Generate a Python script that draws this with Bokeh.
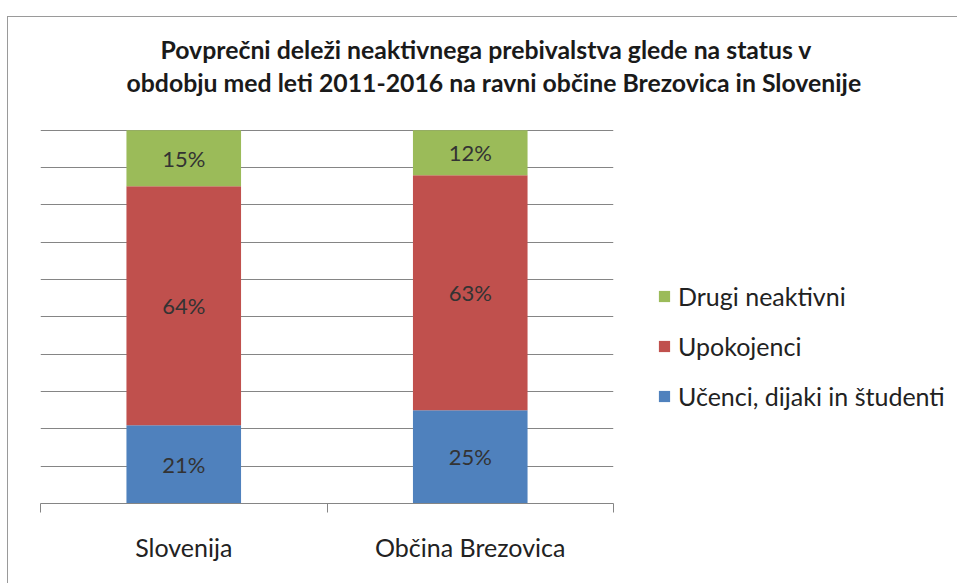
from bokeh.plotting import figure
from bokeh.models import (Range1d, FixedTicker, Legend, LegendItem, Title,
                          ColumnDataSource)
from bokeh.core.properties import value
from bokeh.embed import file_html
from bokeh.resources import INLINE

title_lines = ["Povprečni deleži neaktivnega prebivalstva glede na status v",
               "obdobju med leti 2011-2016 na ravni občine Brezovica in Slovenije"]
categories = ["Slovenija", "Občina Brezovica"]
series_names = ["Učenci, dijaki in študenti", "Upokojenci", "Drugi neaktivni"]
ucenci = [21, 25]
upokojenci = [64, 63]
drugi = [15, 12]
colors = ["#4F81BD", "#C0504D", "#9BBB59"]
y_ticks = [0, 10, 20, 30, 40, 50, 60, 70, 80, 90, 100]

FONT = "Lato"
xs = [i + 0.5 for i in range(len(categories))]

p = figure(frame_width=573, frame_height=375, output_backend="svg", toolbar_location=None,
           x_range=Range1d(0, len(categories)), y_range=Range1d(0, 100.5),
           min_border_left=32, min_border_right=10, min_border_top=111,
           min_border_bottom=80)
p.outline_line_color = None
p.background_fill_color = "white"
p.border_fill_color = "white"
p.styles = {"margin-left": "7px", "margin-top": "16px",
            "border-left": "1px solid #9a9a9a", "border-top": "1px solid #9a9a9a"}

src = ColumnDataSource(dict(x=xs, u=ucenci, p=upokojenci, d=drugi))
renderers = p.vbar_stack(["u", "p", "d"], x="x", width=0.4, source=src,
                         color=colors, line_color=None)

# data labels
series = [ucenci, upokojenci, drugi]
lab_x, lab_y, lab_t = [], [], []
for ci in range(len(categories)):
    base = 0
    for s in series:
        v = s[ci]
        lab_x.append(xs[ci])
        lab_y.append(base + v / 2)
        lab_t.append(f"{v}%")
        base += v
p.text(x=lab_x, y=lab_y, text=lab_t, text_align="center", text_baseline="middle",
       text_font=value(FONT), text_font_size="22px", text_color="#333333")

# axes
p.yaxis.visible = False
p.ygrid.ticker = FixedTicker(ticks=y_ticks)
p.ygrid.grid_line_color = "#858585"
p.ygrid.grid_line_width = 1.2
p.xgrid.visible = False

xa = p.xaxis[0]
xa.ticker = FixedTicker(ticks=xs, minor_ticks=list(range(len(categories) + 1)))
xa.major_label_overrides = {x: c for x, c in zip(xs, categories)}
xa.major_tick_out = 0
xa.major_tick_in = 0
xa.minor_tick_out = 9
xa.minor_tick_in = 0
xa.minor_tick_line_color = "#858585"
xa.axis_line_color = "#858585"
xa.axis_line_width = 1.2
xa.major_label_standoff = 19
xa.major_label_text_font = FONT
xa.major_label_text_font_size = "25px"
xa.major_label_text_color = "#222222"

# legend
items = [LegendItem(label=series_names[i], renderers=[renderers[i]]) for i in (2, 1, 0)]
legend = Legend(items=items, location=(44, 92), orientation="vertical",
                glyph_width=14, glyph_height=14, label_height=25, spacing=20,
                label_standoff=7, padding=0, margin=0,
                border_line_color=None, background_fill_alpha=0,
                label_text_font=FONT, label_text_font_size="25px",
                label_text_color="#222222")
p.add_layout(legend, "right")

# title (two lines; first added is closest to the frame)
p.add_layout(Title(text=title_lines[1], align="left", offset=86, standoff=64,
                   text_font=FONT, text_font_style="bold", text_font_size="24.8px",
                   text_color="#1a1a1a"), "above")
p.add_layout(Title(text=title_lines[0], align="left", offset=120, standoff=-60,
                   text_font=FONT, text_font_style="bold", text_font_size="24.8px",
                   text_color="#1a1a1a"), "above")

open("out.html", "w").write(file_html(p, INLINE))
